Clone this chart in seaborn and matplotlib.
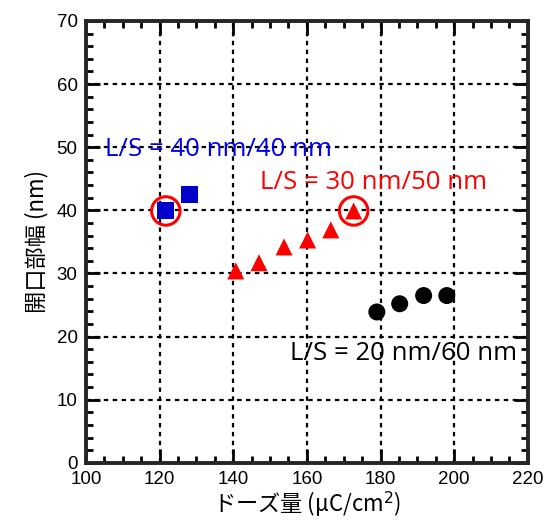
import matplotlib

matplotlib.use("Agg")

import matplotlib.pyplot as plt
import numpy as np
import pandas as pd
import seaborn as sns
from matplotlib.ticker import MultipleLocator

# L/S = 40 nm/40 nm
dose_40 = [121.7, 128.0]
width_40 = [39.9, 42.5]
# L/S = 30 nm/50 nm
dose_30 = [140.7, 147.0, 153.8, 160.2, 166.5, 172.7]
width_30 = [30.4, 31.7, 34.2, 35.3, 36.9, 39.9]
# L/S = 20 nm/60 nm
dose_20 = [179.0, 185.2, 191.7, 198.0]
width_20 = [23.9, 25.2, 26.5, 26.5]
# highlighted points
circled_dose = [121.7, 172.7]
circled_width = [39.9, 39.9]

sns.set_style("ticks")
plt.rcParams["font.family"] = ["Liberation Sans", "Noto Sans CJK JP", "DejaVu Sans"]
plt.rcParams["xtick.color"] = "black"
plt.rcParams["ytick.color"] = "black"
plt.rcParams["axes.labelcolor"] = "black"

fig = plt.figure(figsize=(5.47, 5.23), dpi=100)
ax = fig.add_axes([0.157, 0.115, 0.808, 0.845])

sns.scatterplot(x=dose_40, y=width_40, marker="s", s=150, color="#0000cc",
                edgecolor="none", ax=ax, zorder=4)
sns.scatterplot(x=dose_30, y=width_30, marker="^", s=150, color="#ff0000",
                edgecolor="none", ax=ax, zorder=4)
sns.scatterplot(x=dose_20, y=width_20, marker="o", s=150, color="black",
                edgecolor="none", ax=ax, zorder=4)
ax.scatter(circled_dose, circled_width, marker="o", s=420, facecolor="none",
           edgecolor="#ff0000", linewidth=2.2, zorder=5)

label_font = ["Open Sans", "DejaVu Sans"]
ax.text(105.2, 49.6, "L/S = 40 nm/40 nm", color="#0000ee", fontsize=18.5,
        family=label_font, va="center", ha="left", zorder=6)
ax.text(147.2, 44.4, "L/S = 30 nm/50 nm", color="#ff0000", fontsize=18.5,
        family=label_font, va="center", ha="left", zorder=6)
ax.text(155.4, 17.4, "L/S = 20 nm/60 nm", color="black", fontsize=18.5,
        family=label_font, va="center", ha="left", zorder=6)

ax.set_xlim(100, 220)
ax.set_ylim(0, 70)
ax.xaxis.set_major_locator(MultipleLocator(20))
ax.xaxis.set_minor_locator(MultipleLocator(5))
ax.yaxis.set_major_locator(MultipleLocator(10))
ax.yaxis.set_minor_locator(MultipleLocator(2))
ax.tick_params(which="both", direction="in", top=True, right=True, width=2)
ax.tick_params(which="major", length=10, labelsize=13.5, pad=6)
ax.tick_params(which="minor", length=5)
ax.grid(which="major", color="black", linestyle=(0, (2, 2)), linewidth=1.6)
for sp in ax.spines.values():
    sp.set_linewidth(2.8)
    sp.set_visible(True)

cjk = ["Noto Sans CJK JP", "DejaVu Sans"]
ax.set_xlabel("ドーズ量 (μC/cm$^2$)", fontsize=16, family=cjk, labelpad=1)
ax.set_ylabel("開口部幅 (nm)", fontsize=16, family=cjk, labelpad=6)

fig.savefig("out.png", dpi=100)
